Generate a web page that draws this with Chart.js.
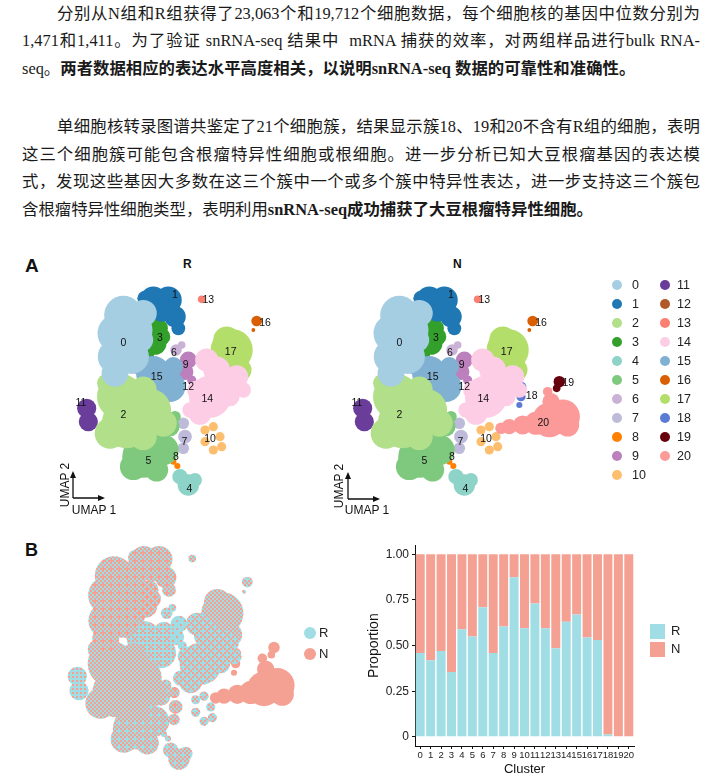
<!DOCTYPE html>
<html><head><meta charset="utf-8">
<script src="https://cdn.jsdelivr.net/npm/chart.js@4.4.1/dist/chart.umd.min.js"></script>
<style>
body{margin:0;background:#fff;width:707px;height:780px;position:relative;overflow:hidden;font-family:'Liberation Sans',Arial,sans-serif;color:#111;}
.ln{position:absolute;left:22px;width:678px;height:27px;line-height:27px;font-family:'Liberation Serif','Noto Sans CJK SC',serif;font-size:16.4px;color:#1a1a1a;white-space:normal;overflow:hidden;}
.j{text-align:justify;text-align-last:justify;}
.ind{left:57px;width:643px;}
b{font-weight:bold;}
.abs{position:absolute;}
.lab{position:absolute;font-family:'Liberation Sans',Arial,sans-serif;}
canvas{position:absolute;}
.dot{position:absolute;width:10px;height:10px;border-radius:50%;}
.lgt{position:absolute;font-size:12.5px;line-height:14px;font-family:'Liberation Sans',Arial,sans-serif;color:#222;}
</style>
</head><body>
<div class="ln j ind" style="top:0px">分别从N组和R组获得了23,063个和19,712个细胞数据，每个细胞核的基因中位数分别为</div>
<div class="ln j" style="top:27px">1,471和1,411。为了验证 snRNA-seq 结果中&nbsp; mRNA 捕获的效率，对两组样品进行bulk RNA-</div>
<div class="ln" style="top:55px">seq。<b>两者数据相应的表达水平高度相关，以说明snRNA-seq 数据的可靠性和准确性。</b></div>
<div class="ln j ind" style="top:113px">单细胞核转录图谱共鉴定了21个细胞簇，结果显示簇18、19和20不含有R组的细胞，表明</div>
<div class="ln j" style="top:141px">这三个细胞簇可能包含根瘤特异性细胞或根细胞。进一步分析已知大豆根瘤基因的表达模</div>
<div class="ln j" style="top:168px">式，发现这些基因大多数在这三个簇中一个或多个簇中特异性表达，进一步支持这三个簇包</div>
<div class="ln" style="top:196px">含根瘤特异性细胞类型，表明利用<b>snRNA-seq成功捕获了大豆根瘤特异性细胞。</b></div>

<div class="lab" style="left:25px;top:255px;font-size:19px;font-weight:bold;">A</div>
<div class="lab" style="left:183px;top:257px;font-size:12px;font-weight:bold;">R</div>
<div class="lab" style="left:453px;top:257px;font-size:12px;font-weight:bold;">N</div>
<div class="lab" style="left:25px;top:540px;font-size:18px;font-weight:bold;">B</div>

<canvas id="umapR" width="280" height="275" style="left:20px;top:250px"></canvas>
<canvas id="umapN" width="290" height="275" style="left:300px;top:250px"></canvas>
<canvas id="umapB" width="280" height="250" style="left:20px;top:530px"></canvas>
<canvas id="bar" width="347" height="245" style="left:360px;top:535px"></canvas>

<svg class="abs" style="left:0;top:0" width="707" height="780">
  <g stroke="#111" stroke-width="1.3" fill="none">
    <path d="M73 498 V476 M73 498 H100"/>
    <path d="M348 499 V476 M348 499 H375"/>
  </g>
  <g fill="#111">
    <path d="M73 471 L70 478 L76 478 Z"/><path d="M105 498 L98 495 L98 501 Z"/>
    <path d="M348 472 L345 479 L351 479 Z"/><path d="M380 499 L373 496 L373 502 Z"/>
  </g>
  <text x="69" y="485" font-size="12" font-family="Liberation Sans" text-anchor="middle" transform="rotate(-90 69 485)" fill="#111">UMAP 2</text>
  <text x="94" y="514" font-size="12" font-family="Liberation Sans" text-anchor="middle" fill="#111">UMAP 1</text>
  <text x="343" y="486" font-size="12" font-family="Liberation Sans" text-anchor="middle" transform="rotate(-90 343 486)" fill="#111">UMAP 2</text>
  <text x="367" y="514" font-size="12" font-family="Liberation Sans" text-anchor="middle" fill="#111">UMAP 1</text>
</svg>
<div id="legA"></div>
<div id="legB"></div>
<div id="legBar"></div>

<script>
// ---------- data ----------
const clusterIds = ['0','1','2','3','4','5','6','7','8','9','10','11','12','13','14','15','16','17','18','19','20'];
const clusterColors = ['#a6cee3','#1f78b4','#b2df8a','#33a02c','#8dd3c7','#7fc97f','#cab2d6','#bebada','#ff7f00','#bc80bd','#fdbf6f','#6a3d9a','#b15928','#fb8072','#fccde5','#80b1d3','#d95f02','#b3de69','#5b7bd5','#67000d','#fb9a99'];

// UMAP blobs per cluster: [UMAP1, UMAP2, spread]
const umap0 = [[-2.8,5.1,1.0],[-3.2,4.0,1.0],[-2.2,4.2,1.0],[-3.3,2.6,0.9],[-2.3,2.6,0.9],[-3.3,1.6,0.7],[-1.6,5.2,0.7],[-2.7,3.3,0.9],[-1.7,3.6,0.6]];
const umap1 = [[-1.0,6.0,0.7],[-0.1,6.0,0.7],[0.3,5.0,0.56],[0.5,4.3,0.36],[-1.5,6.1,0.4],[-0.5,5.4,0.6]];
const umap2 = [[-3.0,0.2,1.2],[-2.6,-1.4,1.3],[-1.2,-0.6,1.1],[-3.6,-2.0,0.8],[-0.4,-1.4,0.7],[-3.8,1.0,0.5],[-1.6,0.6,0.7],[-1.6,-2.2,0.7]];
const umap3 = [[-0.7,4.3,0.5],[-0.9,3.4,0.6],[-1.4,2.8,0.4],[-0.5,3.8,0.45]];
const umap4 = [[1.1,-5.1,0.56],[0.6,-4.6,0.4],[1.5,-4.8,0.36]];
const umap5 = [[-1.6,-3.4,1.1],[-0.4,-3.0,0.8],[-2.2,-4.0,0.7],[-0.8,-4.2,0.6],[0.0,-1.6,0.5],[0.3,-1.0,0.3],[-1.0,-2.4,0.6]];
const umap6 = [[0.36,3.0,0.3],[0.7,3.3,0.2]];
const umap7 = [[0.8,-1.4,0.3],[0.9,-2.2,0.36],[0.8,-2.9,0.3]];
const umap8 = [[-0.04,-3.44,0.14],[0.2,-3.7,0.16],[0.44,-3.96,0.16]];
const umap9 = [[1.1,2.4,0.44],[0.9,1.7,0.44],[1.3,1.2,0.24]];
const umap10 = [[2.1,-1.8,0.24],[2.6,-1.6,0.24],[3.0,-2.2,0.24],[3.1,-2.8,0.24],[2.6,-3.0,0.24],[2.1,-2.5,0.24]];
const umap11 = [[-5.0,-0.5,0.5],[-4.9,-1.3,0.5]];
const umap12 = [[1.4,1.0,0.16]];
const umap13 = [[1.9,6.04,0.2]];
const umap14 = [[2.4,0.2,1.1],[1.8,-0.8,0.6],[1.2,-0.6,0.4],[3.2,1.0,0.8],[2.2,2.4,0.6],[4.0,1.4,0.6],[4.4,0.6,0.4],[2.8,1.8,0.7],[1.6,0.6,0.5],[3.6,0.2,0.5]];
const umap15 = [[-1.0,1.6,0.9],[0.0,0.8,0.8],[-1.8,2.2,0.6],[0.2,2.0,0.5],[-0.6,0.2,0.5]];
const umap16 = [[5.2,4.74,0.28],[5.0,4.2,0.1]];
const umap17 = [[3.7,3.0,1.1],[4.2,1.8,0.6],[3.4,3.6,0.7]];
const umap18 = [[4.55,0.8,0.24],[4.5,0.2,0.24],[4.4,-0.3,0.16]];
const umap19 = [[6.8,1.1,0.3],[6.64,0.7,0.2]];
const umap20 = [[7.0,-1.0,0.9],[6.2,-1.2,0.9],[5.4,-1.4,0.6],[4.6,-1.5,0.5],[3.8,-1.6,0.4],[3.3,-1.7,0.3],[6.3,-0.1,0.45],[6.1,0.5,0.25],[7.3,-1.5,0.6]];
const umapBlobs = [umap0,umap1,umap2,umap3,umap4,umap5,umap6,umap7,umap8,umap9,umap10,umap11,umap12,umap13,umap14,umap15,umap16,umap17,umap18,umap19,umap20];

// cluster label positions [UMAP1, UMAP2]
const labelPos = [[-2.8,3.4],[0.3,6.3],[-2.8,-0.9],[-0.6,3.7],[1.16,-5.34],[-1.3,-3.64],[0.24,2.8],[0.86,-2.5],[0.36,-3.44],[0.94,2.1],[2.4,-2.36],[-5.34,-0.16],[1.1,0.8],[2.3,6.0],[2.24,0.06],[-0.8,1.4],[5.7,4.6],[3.64,2.86],[5.14,0.26],[7.34,1.04],[5.84,-1.36]];

const drawOrder = [0,2,15,5,1,20,14,17,3,4,7,9,6,10,11,8,12,13,16,18,19];
const clustersR = [0,1,2,3,4,5,6,7,8,9,10,11,12,13,14,15,16,17];
const clustersN = [0,1,2,3,4,5,6,7,8,9,10,11,12,13,14,15,16,17,18,19,20];

// Proportion of cells per cluster
const propR = [0.46,0.42,0.47,0.355,0.59,0.55,0.71,0.46,0.605,0.875,0.595,0.73,0.595,0.485,0.63,0.67,0.545,0.53,0.013,0,0];
const propN = [0.54,0.58,0.53,0.645,0.41,0.45,0.29,0.54,0.395,0.125,0.405,0.27,0.405,0.515,0.37,0.33,0.455,0.47,0.987,1,1];
const groupNames = ['R','N'];
const groupColors = ['#a0dde5','#f4a193'];
const yTickVals = [0,0.25,0.5,0.75,1];
const yTickLabels = ['0','0.25','0.50','0.75','1.00'];

// ---------- helpers ----------
const BLOB_SCALE = 1.15;
const radiusFromScale = ctx => {
  const s = ctx.chart.scales.x;
  if (!s || !ctx.raw) return 0;
  return BLOB_SCALE * Math.abs(s.getPixelForValue(ctx.raw.r) - s.getPixelForValue(0));
};
const labelPlugin = {
  id:'clusterLabels',
  afterDatasetsDraw(chart, args, opts){
    if(!opts || !opts.ids) return;
    const {ctx, scales:{x,y}} = chart;
    ctx.save();
    ctx.font = '10.5px "Liberation Sans", Arial';
    ctx.fillStyle = '#111';
    ctx.textAlign='center'; ctx.textBaseline='middle';
    opts.ids.forEach(i=>{
      const p = labelPos[i];
      ctx.fillText(clusterIds[i], x.getPixelForValue(p[0]), y.getPixelForValue(p[1]));
    });
    ctx.restore();
  }
};
function makeUmap(id, xr, yr, ids, colorOf, labels){
  const datasets = drawOrder.filter(c=>ids.includes(c)).map(c=>({
    label: clusterIds[c],
    data: umapBlobs[c].map(b=>({x:b[0],y:b[1],r:b[2]})),
    backgroundColor: colorOf(c),
    pointBackgroundColor: colorOf(c),
    borderColor: 'rgba(0,0,0,0)',
    pointBorderColor: 'rgba(0,0,0,0)',
    borderWidth:0,
    pointBorderWidth:0,
    pointRadius: radiusFromScale,
    pointHoverRadius: radiusFromScale,
    clip:false
  }));
  return new Chart(document.getElementById(id), {
    type:'scatter',
    data:{datasets},
    options:{
      responsive:false, animation:false, events:[],
      layout:{padding:0},
      plugins:{legend:{display:false}, tooltip:{enabled:false}, colors:{enabled:false}, clusterLabels: labels ? {ids} : {}},
      scales:{
        x:{type:'linear',display:false,min:xr[0],max:xr[1]},
        y:{type:'linear',display:false,min:yr[0],max:yr[1]}
      }
    },
    plugins:[labelPlugin]
  });
}

makeUmap('umapR', [-9,7.8], [-7.5,9], clustersR, c=>clusterColors[c], true);
makeUmap('umapN', [-8.76,8.64], [-7.5,9], clustersN, c=>clusterColors[c], true);

// Panel B: each cluster mixes the two groups in its measured proportion (ordered dither)
const bayer = [[0,8,2,10],[12,4,14,6],[3,11,1,9],[15,7,13,5]];
function mixPattern(p){
  const c = document.createElement('canvas'); c.width=8; c.height=8;
  const g = c.getContext('2d');
  const k = Math.round(p*16);
  for(let i=0;i<4;i++) for(let j=0;j<4;j++){
    g.fillStyle = bayer[i][j] < k ? groupColors[0] : groupColors[1];
    g.fillRect(j*2,i*2,2,2);
  }
  return g.createPattern(c,'repeat');
}
makeUmap('umapB', [-8.44,8.36], [-6.26,7.63], clustersN, c=>mixPattern(propR[c]), false);

// Bar chart
new Chart(document.getElementById('bar'), {
  type:'bar',
  data:{labels:clusterIds, datasets:[
    {label:groupNames[0], data:propR, backgroundColor:groupColors[0]},
    {label:groupNames[1], data:propN, backgroundColor:groupColors[1]}
  ]},
  options:{
    responsive:false, animation:false, events:[],
    layout:{padding:{top:7,right:73,left:0,bottom:0}},
    datasets:{bar:{barPercentage:0.86, categoryPercentage:1, borderWidth:0}},
    plugins:{legend:{display:false}, tooltip:{enabled:false}},
    scales:{
      x:{stacked:true,
         grid:{display:true,drawOnChartArea:false,offset:false,tickLength:3,color:'#111'},
         border:{display:true,color:'#111',width:1},
         ticks:{autoSkip:false,maxRotation:0,minRotation:0,padding:1,color:'#222',font:{size:9.5,family:'Liberation Sans'}},
         title:{display:true,text:'Cluster',color:'#111',font:{size:13,family:'Liberation Sans'},padding:{top:0,bottom:3}},
         afterFit(s){ s.height = 34; }
      },
      y:{stacked:true, min:-0.05, max:1.05,
         afterBuildTicks(s){ s.ticks = yTickVals.map(v=>({value:v})); },
         grid:{display:true,drawOnChartArea:false,tickLength:3,color:'#111'},
         border:{display:true,color:'#111',width:1},
         ticks:{padding:3,color:'#222',font:{size:12,family:'Liberation Sans'},
                callback:(v)=>yTickLabels[yTickVals.indexOf(v)]},
         title:{display:true,text:'Proportion',color:'#111',font:{size:14,family:'Liberation Sans'},padding:{top:6,bottom:0}},
         afterFit(s){ s.width = 55; }
      }
    }
  }
});

// ---------- legends ----------
const legA = document.getElementById('legA');
clusterIds.forEach((id,i)=>{
  const col = i<11 ? 0 : 1, row = i<11 ? i : i-11;
  const cx = col ? 665 : 617, tx = col ? 677 : 632;
  const cy = 285 + row*18.95;
  legA.insertAdjacentHTML('beforeend',
    `<div class="dot" style="left:${cx-5}px;top:${cy-5}px;background:${clusterColors[i]}"></div>`+
    `<div class="lgt" style="left:${tx}px;top:${cy-7}px">${id}</div>`);
});
const legB = document.getElementById('legB');
groupNames.forEach((g,i)=>{
  const cy = 633 + i*21;
  legB.insertAdjacentHTML('beforeend',
    `<div class="dot" style="left:304px;top:${cy-6}px;width:12px;height:12px;background:${groupColors[i]}"></div>`+
    `<div class="lgt" style="left:319px;top:${cy-7}px;font-size:13px">${g}</div>`);
});
const legBar = document.getElementById('legBar');
groupNames.forEach((g,i)=>{
  const top = 624 + i*18;
  legBar.insertAdjacentHTML('beforeend',
    `<div class="abs" style="left:650px;top:${top}px;width:15px;height:15px;background:${groupColors[i]}"></div>`+
    `<div class="lgt" style="left:671px;top:${top}px;font-size:13px">${g}</div>`);
});
</script>
</body></html>
